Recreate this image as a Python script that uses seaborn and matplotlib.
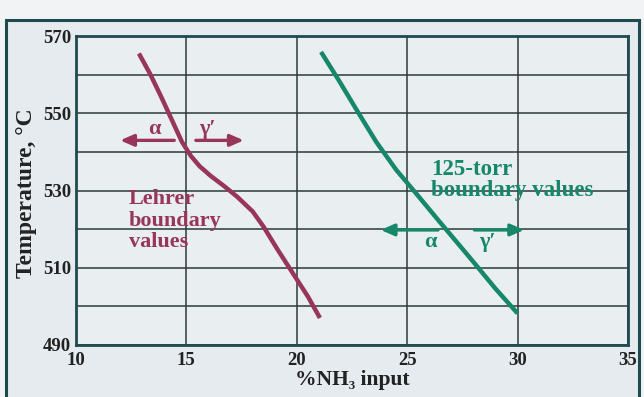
import pandas as pd
import matplotlib.pyplot as plt
import seaborn as sns
from matplotlib.patches import Rectangle

# boundary curves
lehrer_nh3 = [12.85, 13.35, 13.85, 14.35, 14.8, 15.2, 15.6, 16.1, 16.7, 17.3, 18.0, 18.5, 19.1, 19.9, 20.5, 21.05]
lehrer_temp = [565.5, 560.3, 554.4, 548.2, 542.6, 539.0, 536.3, 533.8, 531.2, 528.4, 524.6, 520.6, 515.0, 507.9, 502.6, 497.0]
torr_nh3 = [21.1, 21.9, 22.7, 23.6, 24.5, 25.4, 26.4, 27.8, 29.0, 30.0]
torr_temp = [565.9, 558.6, 551.0, 542.6, 535.4, 529.3, 522.4, 512.9, 504.6, 498.2]

x_ticks = [10, 15, 20, 25, 30, 35]
y_ticks = [490, 510, 530, 550, 570]
y_grid = [500, 520, 540, 560]

maroon = '#973659'
green = '#16876a'
frame_col = '#1f4a4f'

df = pd.concat([
    pd.DataFrame({'nh3': lehrer_nh3, 'temp': lehrer_temp, 'set': 'Lehrer'}),
    pd.DataFrame({'nh3': torr_nh3, 'temp': torr_temp, 'set': '125-torr'}),
])

sns.set_style('white')
plt.rcParams['font.family'] = ['Liberation Serif', 'DejaVu Serif']
plt.rcParams['font.weight'] = 'bold'

fig = plt.figure(figsize=(6.44, 3.97), dpi=100, facecolor='#f1f3f4')
fig.add_artist(Rectangle((0.010, -0.02), 0.982, 0.97, transform=fig.transFigure,
                         facecolor='#e5ebee', edgecolor=frame_col, lw=2.2, zorder=-5))
ax = fig.add_axes([0.118, 0.131, 0.857, 0.778])
ax.set_zorder(2)
ax.set_facecolor('#e9eef0')

sns.lineplot(data=df, x='nh3', y='temp', hue='set', palette={'Lehrer': maroon, '125-torr': green},
             sort=False, lw=3.2, legend=False, ax=ax, zorder=3,
             solid_joinstyle='round', solid_capstyle='butt')

ax.set_xlim(10, 35)
ax.set_ylim(490, 570)
ax.set_xticks(x_ticks)
ax.set_yticks(y_ticks)
ax.set_yticks(y_grid, minor=True)
ax.grid(True, which='both', color='#2c3a3a', lw=1.1)
ax.tick_params(which='both', length=0, labelsize=13.5, colors='#222222')
ax.tick_params(axis='x', pad=5)
for s in ax.spines.values():
    s.set_color(frame_col)
    s.set_linewidth(2)
ax.set_xlabel('%NH₃ input', fontsize=15.5, fontweight='bold', color='#222222')
ax.xaxis.set_label_coords(0.5, -0.082)
ax.set_ylabel('Temperature, °C', fontsize=17, fontweight='bold', color='#222222')
ax.yaxis.set_label_coords(-0.07, 0.49)

arrow = dict(arrowstyle='-|>,head_length=0.8,head_width=0.35', lw=2.4, shrinkA=0, shrinkB=0)

# Lehrer annotations
ax.annotate('', xy=(12.0, 543.0), xytext=(14.45, 543.0), arrowprops=dict(arrow, color=maroon))
ax.annotate('', xy=(17.6, 543.0), xytext=(15.43, 543.0), arrowprops=dict(arrow, color=maroon))
ax.text(13.55, 546.0, 'α', color=maroon, fontsize=16, ha='center', va='center')
ax.text(15.95, 546.0, 'γ′', color=maroon, fontsize=16, ha='center', va='center')
ax.text(12.4, 530.3, 'Lehrer\nboundary\nvalues', color=maroon, fontsize=16,
        ha='left', va='top', linespacing=1.1)

# 125-torr annotations
ax.annotate('', xy=(23.8, 519.8), xytext=(26.4, 519.8), arrowprops=dict(arrow, color=green))
ax.annotate('', xy=(30.3, 519.8), xytext=(28.05, 519.8), arrowprops=dict(arrow, color=green))
ax.text(26.05, 516.6, 'α', color=green, fontsize=16, ha='center', va='center')
ax.text(28.65, 516.6, 'γ′', color=green, fontsize=16, ha='center', va='center')
ax.text(26.1, 538.2, '125-torr\nboundary values', color=green, fontsize=16.5,
        ha='left', va='top', linespacing=1.0)

fig.savefig('out.png', dpi=100, facecolor=fig.get_facecolor())
